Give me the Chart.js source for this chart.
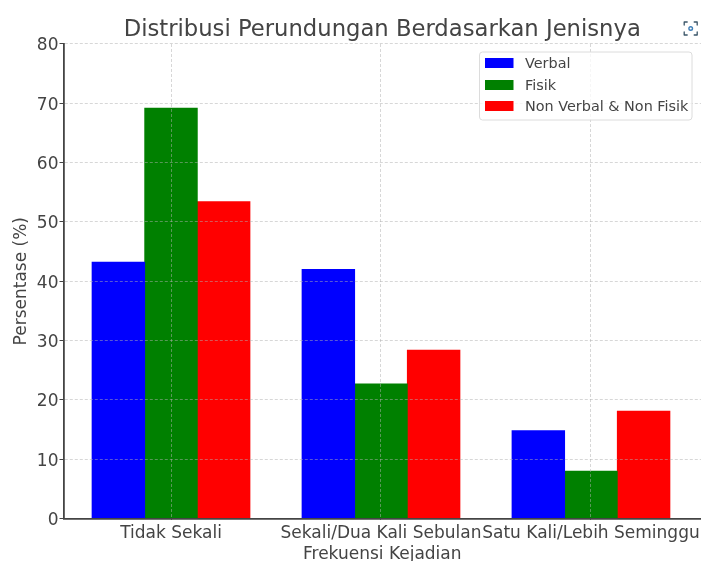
<!DOCTYPE html>
<html>
<head>
<meta charset="utf-8">
<style>html,body{margin:0;padding:0;background:#fff}canvas{display:block}</style>
<script src="https://cdn.jsdelivr.net/npm/chart.js@4"></script>
</head>
<body>
<canvas id="c" width="701" height="561"></canvas>
<script>
const categories = ["Tidak Sekali", "Sekali/Dua Kali Sebulan", "Satu Kali/Lebih Seminggu"];
const positions = [0, 1, 2];
const verbal = [43.2, 42.0, 14.8];
const fisik = [69.2, 22.7, 8.0];
const nonVerbal = [53.4, 28.4, 18.1];
const seriesNames = ["Verbal", "Fisik", "Non Verbal & Non Fisik"];
const seriesColors = ["#0000ff", "#008000", "#ff0000"];
const FONT = "'DejaVu Sans'";
const INK = "#444444";
const GRID = "rgba(176,176,176,0.5)";

const toPoints = vals => vals.map((v, i) => ({x: positions[i], y: v}));
const overlay = {
  id: "overlay",
  afterDraw(chart) {
    const ctx = chart.ctx;
    ctx.save();
    // legend
    ctx.beginPath();
    ctx.roundRect(479.5, 52, 212.5, 68, 3);
    ctx.fillStyle = "rgba(255,255,255,0.8)";
    ctx.fill();
    ctx.strokeStyle = "#dcdcdc";
    ctx.lineWidth = 1;
    ctx.stroke();
    const rows = [63, 85, 106];
    ctx.font = "14.4px " + FONT;
    ctx.textBaseline = "middle";
    chart.data.datasets.forEach((d, i) => {
      ctx.fillStyle = d.backgroundColor;
      ctx.fillRect(485, rows[i] - 5, 28.5, 10);
      ctx.fillStyle = INK;
      ctx.fillText(d.label, 525, rows[i] + 1);
    });
    // viewer icon
    const cx = 690.7, cy = 28.5, r = 6.5, k = 3;
    ctx.strokeStyle = "#3a5568";
    ctx.lineWidth = 1.3;
    ctx.lineCap = "round";
    ctx.lineJoin = "round";
    [[-1,-1],[1,-1],[1,1],[-1,1]].forEach(([sx, sy]) => {
      ctx.beginPath();
      ctx.moveTo(cx + sx * r, cy + sy * (r - k));
      ctx.lineTo(cx + sx * r, cy + sy * r);
      ctx.lineTo(cx + sx * (r - k), cy + sy * r);
      ctx.stroke();
    });
    ctx.strokeStyle = "#3f7fb8";
    ctx.lineWidth = 1.4;
    ctx.beginPath();
    ctx.arc(cx, cy, 1.8, 0, Math.PI * 2);
    ctx.stroke();
    ctx.restore();
  }
};

new Chart(document.getElementById("c"), {
  type: "bar",
  data: {
    datasets: [
      {label: seriesNames[0], data: toPoints(verbal), backgroundColor: seriesColors[0], inflateAmount: 0.4},
      {label: seriesNames[1], data: toPoints(fisik), backgroundColor: seriesColors[1], inflateAmount: 0.4},
      {label: seriesNames[2], data: toPoints(nonVerbal), backgroundColor: seriesColors[2], inflateAmount: 0.4}
    ]
  },
  plugins: [overlay],
  options: {
    responsive: false,
    animation: false,
    devicePixelRatio: 1,
    layout: {padding: 0},
    categoryPercentage: 0.752,
    barPercentage: 1,
    plugins: {
      legend: {display: false},
      tooltip: {enabled: false},
      title: {
        display: true,
        text: "Distribusi Perundungan Berdasarkan Jenisnya",
        fullSize: false,
        color: INK,
        font: {family: FONT, size: 22.7, weight: "normal", lineHeight: 1.18},
        padding: {top: 17, bottom: 0.2}
      }
    },
    scales: {
      x: {
        type: "linear",
        offset: false,
        min: -0.512,
        max: 2.524,
        afterFit(s) { s.paddingLeft = 0; s.paddingRight = 0; s.height = 42.5; },
        ticks: {
          stepSize: 1,
          includeBounds: false,
          autoSkip: false,
          maxRotation: 0,
          minRotation: 0,
          color: INK,
          padding: 5,
          font: {family: FONT, size: 17},
          callback: v => categories[v]
        },
        grid: {offset: false, color: GRID, z: 1, tickLength: 0, tickColor: INK, lineWidth: 1},
        border: {display: true, z: 2, color: INK, width: 1.8, dash: [3, 2]},
        title: {display: true, text: "Frekuensi Kejadian", color: INK, padding: {top: 0, bottom: -4}, font: {family: FONT, size: 17}}
      },
      y: {
        min: 0,
        max: 80,
        afterFit(s) { s.width = 63.5; },
        ticks: {stepSize: 10, color: INK, padding: 1, labelOffset: 2, font: {family: FONT, size: 17}},
        grid: {color: GRID, z: 1, tickLength: 4, tickColor: INK, lineWidth: 1},
        border: {display: true, z: 2, color: INK, width: 1.8, dash: [3, 2]},
        title: {display: true, text: "Persentase (%)", color: INK, padding: {top: 11, bottom: 0}, font: {family: FONT, size: 17}}
      }
    }
  }
});
</script>
</body>
</html>
